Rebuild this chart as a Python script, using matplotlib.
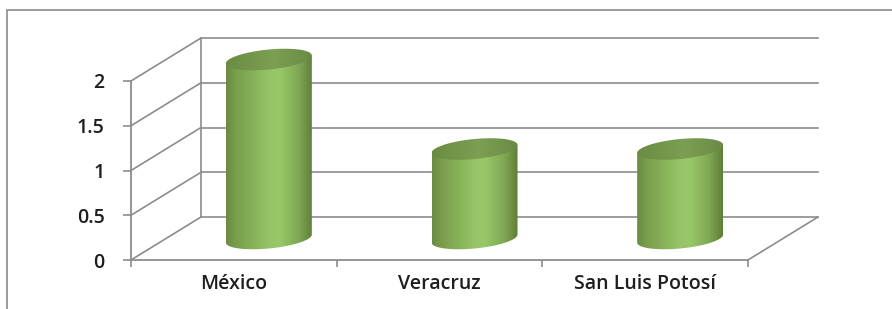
import numpy as np
import matplotlib.pyplot as plt
from matplotlib.path import Path
from matplotlib.patches import PathPatch, Rectangle
from matplotlib.colors import LinearSegmentedColormap

categories = ['México', 'Veracruz', 'San Luis Potosí']
values = [2, 1, 1]
yticks = [0, 0.5, 1, 1.5, 2]
ytick_labels = ['0', '0.5', '1', '1.5', '2']

W, H = 892, 309
GRID = '#8c8c8c'
TEXT = '#1e1e1e'
plt.rcParams['font.family'] = ['Open Sans', 'DejaVu Sans']

fig = plt.figure(figsize=(W / 100, H / 100), dpi=100)
ax_left, ax_bottom, ax_w, ax_h = 131, 49, 617, 179
ax = fig.add_axes([ax_left / W, ax_bottom / H, ax_w / W, ax_h / H])
ax.set_xlim(-0.5, 2.5)
ax.set_ylim(0, 2)

# pixel -> data unit helpers
px_x = 3.0 / ax_w
px_y = 2.0 / ax_h
DX, DY = 70 * px_x, 43 * px_y  # depth of the 3d box

# outer chart border
fig.patches.append(Rectangle((7 / W, -0.1), 1.2, (H - 10) / H + 0.1,
                             transform=fig.transFigure, fill=False,
                             edgecolor='#8a8a8a', linewidth=1.2))

# spines / ticks
for sp in ['top', 'right']:
    ax.spines[sp].set_visible(False)
for sp in ['left', 'bottom']:
    ax.spines[sp].set_color(GRID)
    ax.spines[sp].set_linewidth(1.3)
ax.set_yticks(yticks)
ax.set_yticklabels(ytick_labels, fontweight='semibold')
ax.set_xticks([-0.5, 0.5, 1.5, 2.5])
ax.set_xticklabels([])
ax.set_xticks(range(len(categories)), minor=True)
ax.set_xticklabels(categories, minor=True, fontweight='semibold')
ax.tick_params(axis='y', length=6, width=1.2, color=GRID, pad=13,
               labelsize=14, labelcolor=TEXT)
ax.tick_params(axis='x', which='major', length=5, width=1.2, color=GRID)
ax.tick_params(axis='x', which='minor', length=0, pad=10,
               labelsize=14, labelcolor=TEXT)
ax.set_facecolor('none')

# back wall, side wall and floor
for y in yticks:
    ax.plot([-0.5 + DX, 2.5 + DX], [y + DY, y + DY], color=GRID, lw=1.2,
            clip_on=False, zorder=1)
    ax.plot([-0.5, -0.5 + DX], [y, y + DY], color=GRID, lw=1.2,
            clip_on=False, zorder=1)
ax.plot([-0.5 + DX, -0.5 + DX], [DY, 2 + DY], color=GRID, lw=1.2,
        clip_on=False, zorder=1)
ax.plot([2.5, 2.5 + DX], [0, DY], color=GRID, lw=1.2, clip_on=False, zorder=1)

# cylinders
body_cmap = LinearSegmentedColormap.from_list('body', [
    (0.0, '#6a8b41'), (0.12, '#7a9f4d'), (0.5, '#95c566'),
    (0.62, '#98c868'), (0.85, '#7ea553'), (1.0, '#5e7e37')])
top_cmap = LinearSegmentedColormap.from_list('top', [
    (0.0, '#6b8b43'), (0.55, '#7c9f53'), (1.0, '#6a8a44')])

a = 43 * px_x
b = 10 * px_y
s = 4 * px_y
t = np.linspace(0, 2 * np.pi, 200)
grad = np.linspace(0, 1, 256).reshape(1, -1)

for i, v in enumerate(values):
    cx = i + DX / 2
    y0 = DY / 2
    y1 = v + DY / 2
    # body outline: front half of base ellipse, then up to the top
    tb = np.linspace(np.pi, 2 * np.pi, 100)
    xs = list(cx + a * np.cos(tb)) + [cx + a, cx - a]
    ys = list(y0 + b * np.sin(tb) + s * np.cos(tb)) + [y1 + s, y1 - s]
    verts = list(zip(xs, ys)) + [(xs[0], ys[0])]
    body = PathPatch(Path(verts, closed=True), facecolor='none',
                     edgecolor='none', clip_on=False)
    ax.add_patch(body)
    im = ax.imshow(grad, cmap=body_cmap, aspect='auto',
                   extent=[cx - a, cx + a, y0 - b - s, y1 + b + s],
                   zorder=3, interpolation='bilinear')
    im.set_clip_box(fig.bbox)
    im.set_clip_path(body)

    tx = cx + a * np.cos(t)
    ty = y1 + b * np.sin(t) + s * np.cos(t)
    top = PathPatch(Path(np.column_stack([tx, ty]), closed=True),
                    facecolor='none', edgecolor='none', clip_on=False)
    ax.add_patch(top)
    im2 = ax.imshow(grad, cmap=top_cmap, aspect='auto',
                    extent=[cx - a, cx + a, y1 - b - s, y1 + b + s],
                    zorder=4, interpolation='bilinear')
    im2.set_clip_box(fig.bbox)
    im2.set_clip_path(top)

ax.set_xlim(-0.5, 2.5)
ax.set_ylim(0, 2)

fig.savefig('out.png', dpi=100)
